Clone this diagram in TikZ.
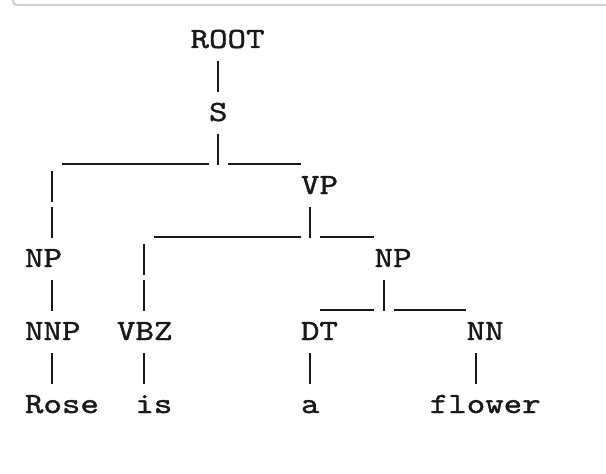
\documentclass[tikz,border=0pt]{standalone}
\usepackage{fontspec}
\usetikzlibrary{calc}
\newfontfamily\treefont{lmmono10-regular.otf}[FakeBold=1.3,FakeStretch=1.2]
\newcommand\vsegat[3]{\draw[conn] ($(#1.base west)+({18.4*#2+9},{36.5*#3-23.5})$) -- ++(0,31);}
\newcommand\hsegat[4]{\draw[conn] ($(#1.base west)+({18.4*#2+0.5},{36.5*#4+6.5})$) -- ($(#1.base west)+({18.4*(#3+1)-0.5},{36.5*#4+6.5})$);}
\begin{document}
\begin{tikzpicture}[x=0.75pt,y=-0.75pt,
  lab/.style={anchor=base west,inner sep=0pt,outer sep=0pt,font=\treefont\fontsize{22}{26}\selectfont,text=black!90},
  conn/.style={line width=1.5pt,black!90,line cap=butt},
  frame/.style={draw=black!18,line width=1.8pt,rounded corners=3pt}]
\useasboundingbox (0,0) rectangle (606,474);
\begin{scope}
\clip (0,0) rectangle (606,474);
\draw[frame] (13,-20) -- (13,5) -- (640,5);
\end{scope}
% nodes
\node[lab] (root) at ({25+18.4*9},{48+36.5*0}) {ROOT};
\node[lab] (s)    at ({25+18.4*10},{48+36.5*2}) {S};
\node[lab] (vp)   at ({25+18.4*15},{48+36.5*4}) {VP};
\node[lab] (np1)  at ({25+18.4*0},{48+36.5*6}) {NP};
\node[lab] (np2)  at ({25+18.4*19},{48+36.5*6}) {NP};
\node[lab] (nnp)  at ({25+18.4*0},{48+36.5*8}) {NNP};
\node[lab] (vbz)  at ({25+18.4*5},{48+36.5*8}) {VBZ};
\node[lab] (dt)   at ({25+18.4*15},{48+36.5*8}) {DT};
\node[lab] (nn)   at ({25+18.4*24},{48+36.5*8}) {NN};
\node[lab] (w1)   at ({25+18.4*0},{48+36.5*10}) {Rose};
\node[lab] (w2)   at ({25+18.4*6},{48+36.5*10}) {is};
\node[lab] (w3)   at ({25+18.4*15},{48+36.5*10}) {a};
\node[lab] (w4)   at ({25+18.4*22},{48+36.5*10}) {flower};
% ROOT -> S
\vsegat{s}{0}{-1}
% S -> NP, VP
\vsegat{s}{0}{1}
\hsegat{s}{-8}{-1}{1}
\hsegat{s}{1}{4}{1}
\vsegat{np1}{1}{-2}
\vsegat{np1}{1}{-1}
% VP -> VBZ, NP
\vsegat{vp}{0}{1}
\hsegat{vp}{-8}{-1}{1}
\hsegat{vp}{1}{3}{1}
\vsegat{vbz}{1}{-2}
\vsegat{vbz}{1}{-1}
% NP -> NNP
\vsegat{nnp}{1}{-1}
% NP -> DT, NN
\vsegat{np2}{0}{1}
\hsegat{np2}{-3}{-1}{1}
\hsegat{np2}{1}{4}{1}
% words
\vsegat{w1}{1}{-1}
\vsegat{w2}{0}{-1}
\vsegat{w3}{0}{-1}
\vsegat{w4}{2}{-1}
\end{tikzpicture}
\end{document}
